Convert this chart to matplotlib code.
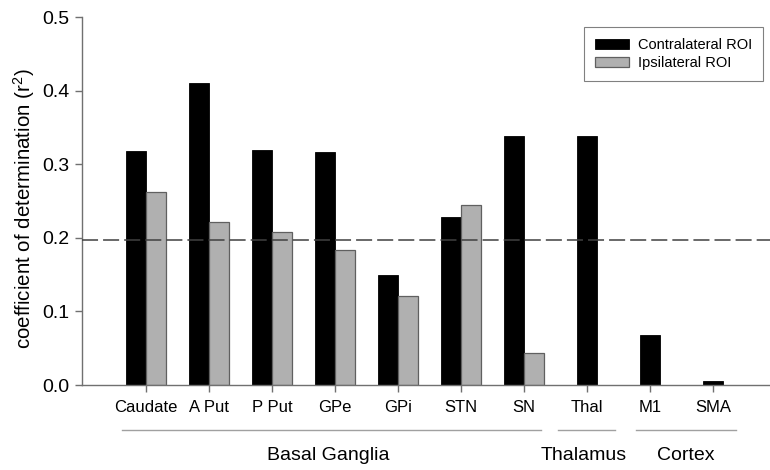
import numpy as np
import matplotlib
matplotlib.use("Agg")
import matplotlib.pyplot as plt
from matplotlib.transforms import blended_transform_factory

plt.rcParams['font.family'] = ['Liberation Sans', 'DejaVu Sans']
plt.rcParams['mathtext.default'] = 'regular'

# data
regions = ['Caudate', 'A Put', 'P Put', 'GPe', 'GPi', 'STN', 'SN', 'Thal', 'M1', 'SMA']
contra = [0.318, 0.411, 0.319, 0.316, 0.150, 0.228, 0.338, 0.338, 0.068, 0.006]
ipsi = [0.262, 0.221, 0.208, 0.183, 0.121, 0.245, 0.043]   # only basal ganglia ROIs
threshold = 0.197
groups = ['Basal Ganglia', 'Thalamus', 'Cortex']

fig = plt.figure(figsize=(7.7, 4.7), dpi=100)
ax = fig.add_axes([82 / 770, 1 - 385 / 470, 1 - 82 / 770, 368 / 470])

x = np.arange(len(regions))
w = 0.317
n_ipsi = len(ipsi)

# paired bars (black left of tick, grey right of tick), single bars centred
ax.bar(x[:n_ipsi] - w / 2, contra[:n_ipsi], w, color='black', edgecolor='black',
       linewidth=0.6, label='Contralateral ROI', zorder=2)
ax.bar(x[:n_ipsi] + w / 2, ipsi, w, color='#b0b0b0', edgecolor='#606060',
       linewidth=0.9, label='Ipsilateral ROI', zorder=2)
ax.bar(x[n_ipsi:], contra[n_ipsi:], w, color='black', edgecolor='black',
       linewidth=0.6, zorder=2)

ax.axhline(threshold, color='#404040', lw=1.1, dashes=(10.5, 3.3), zorder=3)

ax.set_xlim(-1.016, 9.905)
ax.set_ylim(0, 0.5)
ax.set_yticks(np.arange(0, 0.51, 0.1))
ax.set_yticklabels(['%.1f' % v for v in np.arange(0, 0.51, 0.1)], fontsize=14)
ax.set_xticks(x)
ax.set_xticklabels(regions, fontsize=12)

for side in ['top', 'right']:
    ax.spines[side].set_visible(False)
for side in ['left', 'bottom']:
    ax.spines[side].set_color('#707070')
    ax.spines[side].set_linewidth(1.0)
ax.tick_params(axis='y', direction='out', length=5, width=1, color='#707070', pad=4)
ax.tick_params(axis='x', direction='out', length=5, width=1, color='#707070', pad=6)

ax.set_ylabel('coefficient of determination (r$^2$)', fontsize=14.8, va='center')
ax.yaxis.set_label_coords(-0.0843, 0.48)

leg = ax.legend(loc='upper right', bbox_to_anchor=(0.99, 0.973), borderaxespad=0,
                fontsize=10.5, fancybox=False, framealpha=1, edgecolor='#808080',
                handlelength=2.3, handleheight=0.7, handletextpad=0.62,
                labelspacing=0.3, borderpad=0.75)
leg.get_frame().set_linewidth(0.8)

# group brackets and labels under the axis
trans = blended_transform_factory(ax.transData, fig.transFigure)
line_spans = [(-0.38, 6.27), (6.54, 7.44), (7.78, 9.37)]
label_pos = [2.9, 6.94, 8.56]
for name, (a, b), lx in zip(groups, line_spans, label_pos):
    ax.plot([a, b], [1 - 430 / 470] * 2, color='#a0a0a0', lw=1.0,
            transform=trans, clip_on=False)
    ax.text(lx, 1 - 460 / 470, name, transform=trans, ha='center',
            va='baseline', fontsize=14)

fig.savefig('out.png', dpi=100)
